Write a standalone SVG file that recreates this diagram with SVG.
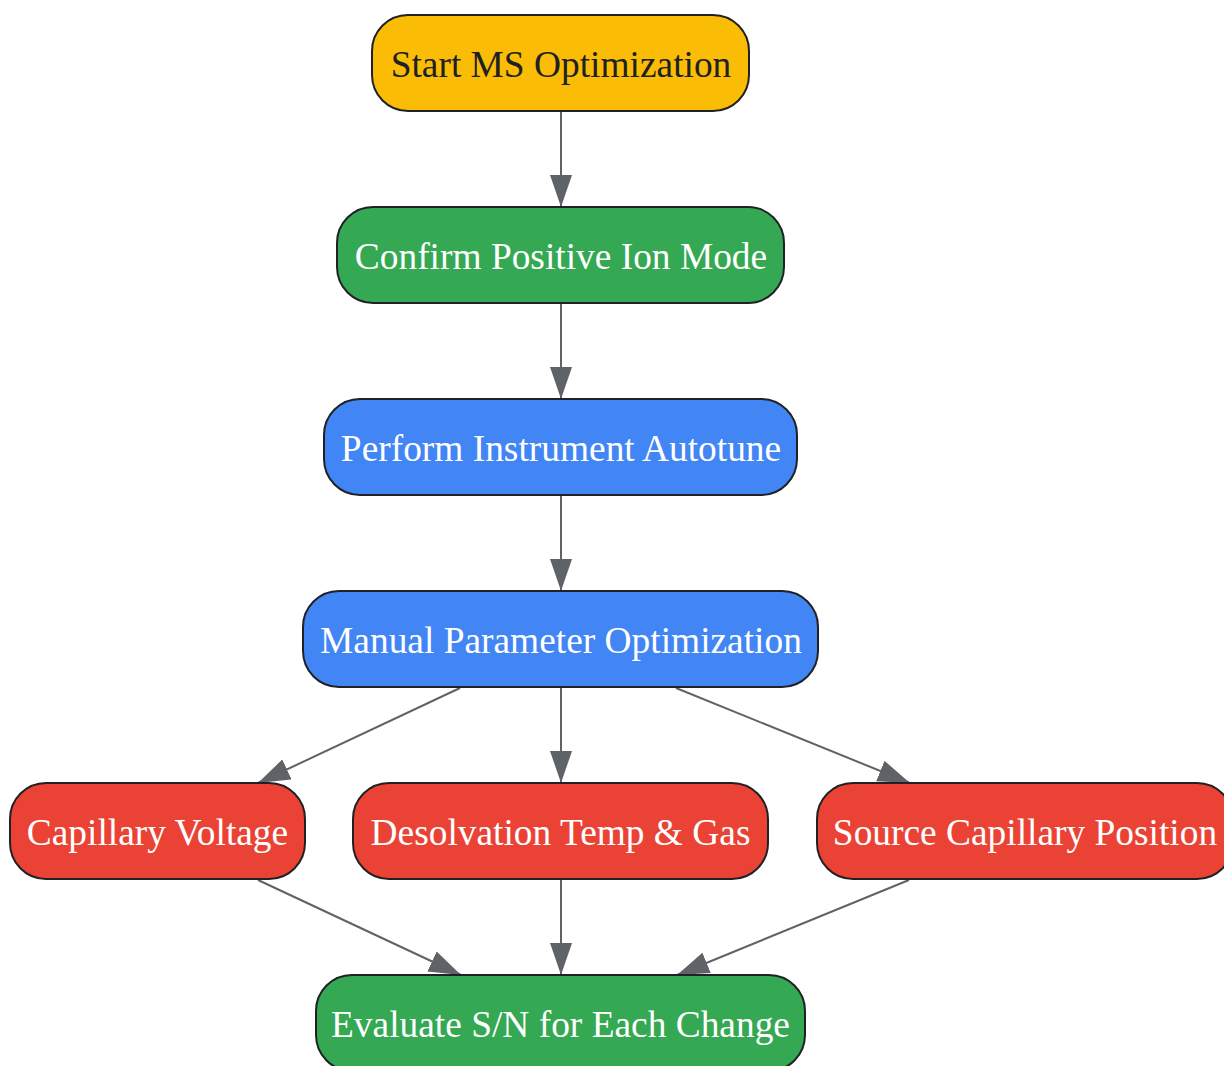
<svg xmlns="http://www.w3.org/2000/svg" width="1224" height="1066" viewBox="0 0 1224 1066">
<style>
.n rect{stroke:#202124;stroke-width:2}
.n text{font-family:"Liberation Serif","Times New Roman",serif;font-size:37.4px;text-anchor:middle;fill:#ffffff}
.y rect{fill:#FBBC05}
.y text{fill:#202124}
.g rect{fill:#34A853}
.b rect{fill:#4285F4}
.r rect{fill:#EA4335}
#edges path{fill:none;stroke:#5f6368;stroke-width:2}
</style>
<defs>
<marker id="ah" markerUnits="userSpaceOnUse" markerWidth="33" markerHeight="23" refX="32" refY="11" orient="auto" viewBox="0 0 33 23">
<path d="M0,0 L32,11 L0,22 z" fill="#5f6368"/>
</marker>
</defs>
<rect width="1224" height="1066" fill="#ffffff"/>
<g id="edges">
<path d="M561,112 L561,207" marker-end="url(#ah)"/>
<path d="M561,304 L561,399" marker-end="url(#ah)"/>
<path d="M561,496 L561,591" marker-end="url(#ah)"/>
<path d="M561,688 L561,783" marker-end="url(#ah)"/>
<path d="M460,688 L258,783" marker-end="url(#ah)"/>
<path d="M676,688 L910,783" marker-end="url(#ah)"/>
<path d="M258,880 L461,975" marker-end="url(#ah)"/>
<path d="M561,880 L561,975" marker-end="url(#ah)"/>
<path d="M909,880 L677,975" marker-end="url(#ah)"/>
</g>
<g id="start" class="n y"><rect x="372" y="15" width="377" height="96" rx="36"/><text x="561" y="77">Start MS Optimization</text></g>
<g id="confirm" class="n g"><rect x="337" y="207" width="447" height="96" rx="36"/><text x="561" y="269">Confirm Positive Ion Mode</text></g>
<g id="autotune" class="n b"><rect x="324" y="399" width="473" height="96" rx="36"/><text x="561" y="461">Perform Instrument Autotune</text></g>
<g id="manual" class="n b"><rect x="303" y="591" width="515" height="96" rx="36"/><text x="561" y="653">Manual Parameter Optimization</text></g>
<g id="capvolt" class="n r"><rect x="10" y="783" width="295" height="96" rx="36"/><text x="157.5" y="845">Capillary Voltage</text></g>
<g id="desolv" class="n r"><rect x="353" y="783" width="415" height="96" rx="36"/><text x="560.5" y="845">Desolvation Temp &amp; Gas</text></g>
<g id="source" class="n r"><rect x="817" y="783" width="416" height="96" rx="36"/><text x="1025" y="845">Source Capillary Position</text></g>
<g id="evaluate" class="n g"><rect x="316" y="975" width="489" height="96" rx="36"/><text x="560.5" y="1037">Evaluate S/N for Each Change</text></g>
</svg>
